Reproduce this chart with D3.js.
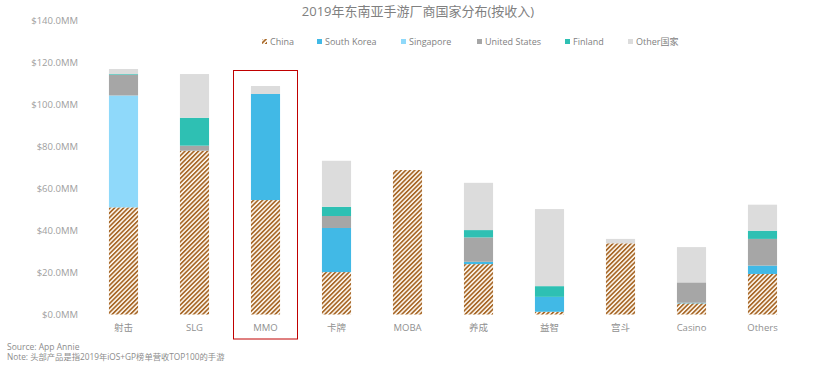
<!DOCTYPE html>
<html>
<head>
<meta charset="utf-8">
<script src="https://cdn.jsdelivr.net/npm/d3@7"></script>
<style>
	body { margin: 0; background: #fff; }
	svg text { font-family: "Open Sans", "Noto Sans CJK SC", sans-serif; }
</style>
</head>
<body>
<svg id="chart" width="824" height="367"></svg>
<script>
// categories and series (values in $MM)
const categories = ["射击", "SLG", "MMO", "卡牌", "MOBA", "养成", "益智", "宫斗", "Casino", "Others"];
const seriesNames = ["China", "South Korea", "Singapore", "United States", "Finland", "Other国家"];

const china = [51.0, 78.0, 54.5, 20.2, 68.8, 24.0, 1.3, 33.9, 5.3, 19.3];
const southKorea = [0, 0, 50.5, 21.0, 0, 1.1, 7.1, 0, 0.3, 4.0];
const singapore = [53.3, 0, 0, 0, 0, 0, 0, 0, 0, 0];
const unitedStates = [9.9, 2.4, 0, 5.7, 0, 11.6, 0, 0, 9.7, 12.7];
const finland = [0.3, 13.3, 0, 4.4, 0, 3.5, 5.1, 0, 0, 3.9];
const otherCountries = [2.4, 20.8, 3.8, 21.9, 0, 22.5, 36.7, 2.1, 16.8, 12.4];

const yTicks = [0, 20, 40, 60, 80, 100, 120, 140];
const highlighted = "MMO";

const colors = {
	"China": "url(#china-stripes)",
	"South Korea": "#41b9e6",
	"Singapore": "#8fd9fa",
	"United States": "#a6a6a6",
	"Finland": "#2ec0b3",
	"Other国家": "#dcdcdc"
};

const rows = categories.map((c, i) => ({
	category: c,
	"China": china[i],
	"South Korea": southKorea[i],
	"Singapore": singapore[i],
	"United States": unitedStates[i],
	"Finland": finland[i],
	"Other国家": otherCountries[i]
}));

const svg = d3.select("#chart");

// stripe pattern for China
const pattern = svg.append("defs")
	.append("pattern")
	.attr("id", "china-stripes")
	.attr("patternUnits", "userSpaceOnUse")
	.attr("width", 3.2)
	.attr("height", 3.2)
	.attr("patternTransform", "rotate(45)");
pattern.append("rect").attr("width", 3.2).attr("height", 3.2).attr("fill", "#fffaf2");
pattern.append("rect").attr("width", 1.7).attr("height", 3.2).attr("fill", "#a8692a");

const x = d3.scaleBand().domain(categories).range([88, 798]).paddingInner(0.59).paddingOuter(0.295);
const y = d3.scaleLinear().domain([0, 140]).range([314.5, 20.5]);

const stacked = d3.stack().keys(seriesNames)(rows);

// title
svg.append("text")
	.attr("x", 418)
	.attr("y", 16)
	.attr("text-anchor", "middle")
	.attr("font-size", 13)
	.attr("fill", "#808080")
	.text("2019年东南亚手游厂商国家分布(按收入)");

// y axis labels
svg.append("g")
	.selectAll("text")
	.data(yTicks)
	.enter()
	.append("text")
	.attr("x", 78)
	.attr("y", (d) => y(d))
	.attr("dy", "0.35em")
	.attr("text-anchor", "end")
	.attr("font-size", 9.5)
	.attr("fill", "#a0a0a0")
	.text((d) => `$${d.toFixed(1)}MM`);

// bars
svg.append("g")
	.selectAll("g")
	.data(stacked)
	.enter()
	.append("g")
	.attr("fill", (d) => colors[d.key])
	.selectAll("rect")
	.data((d) => d.filter((p) => p[1] - p[0] > 0))
	.enter()
	.append("rect")
	.attr("x", (d) => x(d.data.category))
	.attr("y", (d) => y(d[1]))
	.attr("width", x.bandwidth())
	.attr("height", (d) => y(d[0]) - y(d[1]));

// category labels
svg.append("g")
	.selectAll("text")
	.data(categories)
	.enter()
	.append("text")
	.attr("x", (d) => x(d) + x.bandwidth() / 2)
	.attr("y", 331)
	.attr("text-anchor", "middle")
	.attr("font-size", 9.5)
	.attr("fill", "#909090")
	.text((d) => d);

// highlight box around MMO
const hx = x(highlighted) + x.bandwidth() / 2;
svg.append("rect")
	.attr("x", hx - 32)
	.attr("y", 70.5)
	.attr("width", 64)
	.attr("height", 268.5)
	.attr("fill", "none")
	.attr("stroke", "#c00000")
	.attr("stroke-width", 1);

// legend
const legendX = [262, 317, 401, 477, 565, 628];
const legend = svg.append("g")
	.selectAll("g")
	.data(seriesNames)
	.enter()
	.append("g")
	.attr("transform", (d, i) => `translate(${legendX[i]},42)`);

legend.append("rect")
	.attr("x", 0)
	.attr("y", -3)
	.attr("width", 5)
	.attr("height", 5)
	.attr("fill", (d) => colors[d]);

legend.append("text")
	.attr("x", 8)
	.attr("y", 0)
	.attr("dy", "0.35em")
	.attr("font-size", 9)
	.attr("fill", "#7f7f7f")
	.text((d) => d);

// source and note
svg.append("text")
	.attr("x", 7)
	.attr("y", 350)
	.attr("font-size", 8.5)
	.attr("fill", "#8c8c8c")
	.text("Source: App Annie");

svg.append("text")
	.attr("x", 7)
	.attr("y", 360)
	.attr("font-size", 8.3)
	.attr("fill", "#8c8c8c")
	.text("Note: 头部产品是指2019年iOS+GP榜单营收TOP100的手游");
</script>
</body>
</html>
